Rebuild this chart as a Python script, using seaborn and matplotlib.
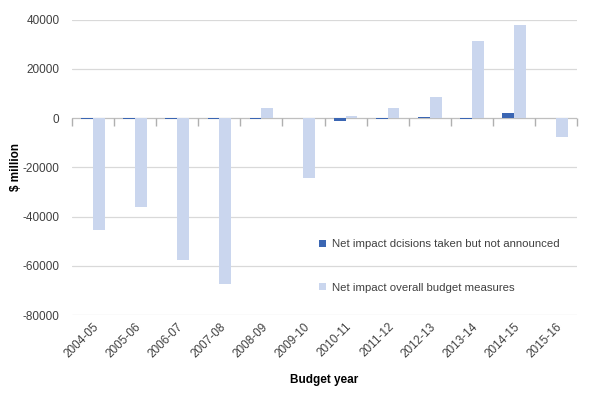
# Budget measures chart: net impact by budget year
import numpy as np
import pandas as pd
import matplotlib
matplotlib.use("Agg")
import matplotlib.pyplot as plt
import seaborn as sns

# data ($ million)
years = ["2004-05", "2005-06", "2006-07", "2007-08", "2008-09", "2009-10",
         "2010-11", "2011-12", "2012-13", "2013-14", "2014-15", "2015-16"]
not_announced = [-300, -200, -200, -300, -300, 0, -1200, -500, 400, -400, 2200, 0]
overall = [-45300, -36000, -57500, -67200, 4300, -24300, 700, 4200, 8500, 31300, 38000, -7500]
series = ["Net impact dcisions taken but not announced", "Net impact overall budget measures"]
yticks = [40000, 20000, 0, -20000, -40000, -60000, -80000]

df = pd.DataFrame({
    "year": years * 2,
    "value": not_announced + overall,
    "series": [series[0]] * len(years) + [series[1]] * len(years),
})

sns.set_style("white")
plt.rcParams["font.family"] = ["Liberation Sans", "DejaVu Sans"]

fig = plt.figure(figsize=(6.02, 3.93), dpi=100)
ax = fig.add_axes([0.1196, 0.198, 0.839, 0.752])

# gridlines behind bars
for y in yticks:
    ax.axhline(y, color="#BFBFBF" if y == 0 else "#D9D9D9", lw=0.9, zorder=0)

sns.barplot(data=df, x="year", y="value", hue="series", hue_order=series,
            palette=["#3B66B3", "#CAD6EE"], width=0.56, gap=0, saturation=1,
            edgecolor="none", linewidth=0, ax=ax, zorder=2)

# category boundary ticks hanging off the zero line
bounds = np.arange(-0.5, len(years), 1.0)
ax.plot(bounds, np.zeros(len(bounds)), ls="none", marker=3, ms=6, mew=1.0,
        color="#B0B0B0", zorder=3, clip_on=False)

ax.set_xlim(-0.5, len(years) - 0.5)
ax.set_ylim(-80000, 40000)
ax.set_yticks(yticks)
ax.set_yticklabels([str(y) for y in yticks])
for s in ax.spines.values():
    s.set_visible(False)
ax.tick_params(axis="both", length=0, colors="#404040", labelsize=8.5)
ax.tick_params(axis="y", pad=9)
ax.tick_params(axis="x", pad=4)
plt.setp(ax.get_xticklabels(), rotation=45, ha="right", rotation_mode="anchor")

ax.set_xlabel("Budget year", fontsize=8.5, fontweight="bold", color="black", labelpad=10)
ax.set_ylabel("$ million", fontsize=8.5, fontweight="bold", color="black", labelpad=0)

leg = ax.legend(loc="lower left", bbox_to_anchor=(0.48, 0.06), frameon=False,
                fontsize=8.2, handlelength=0.6, handleheight=0.6, handletextpad=0.5,
                labelspacing=2.95, borderaxespad=0)
for t in leg.get_texts():
    t.set_color("#404040")

fig.savefig("out.png", dpi=100)
